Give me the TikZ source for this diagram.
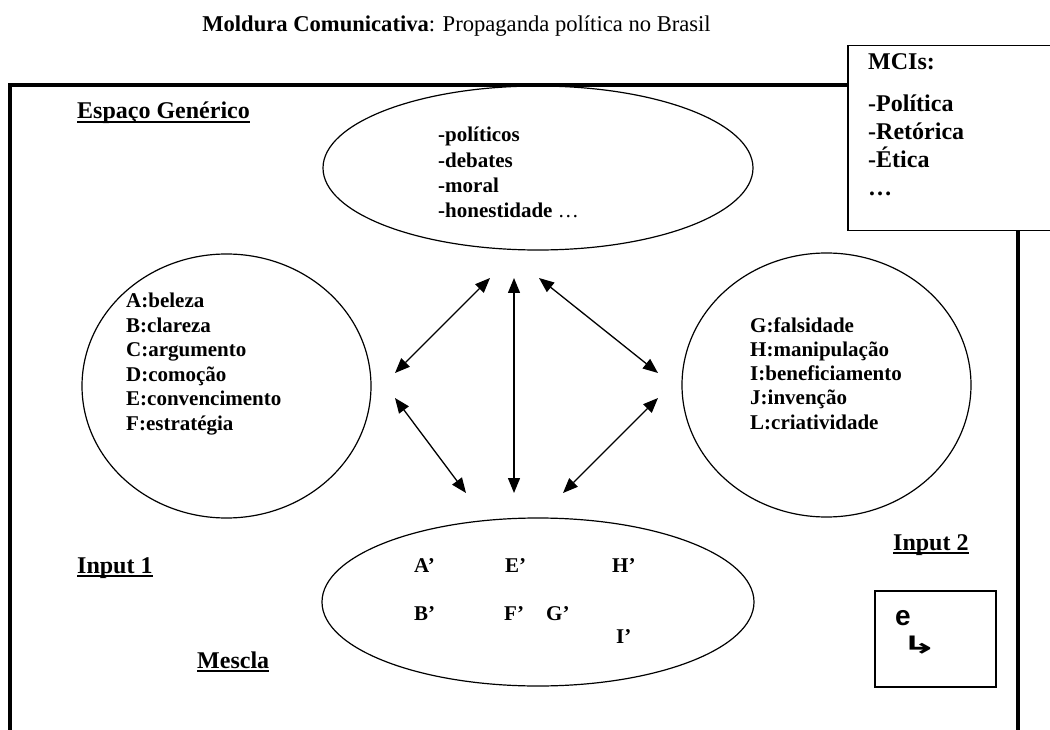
\documentclass[tikz,border=0pt]{standalone}
\usepackage{fontspec}
\setmainfont{Liberation Serif}
\newfontfamily\boxfont{Liberation Sans}
\newfontfamily\symfont{DejaVu Sans}
\usetikzlibrary{shapes.geometric,arrows.meta}
\newcommand{\ulin}[1]{\setbox0\hbox{#1}\rlap{\copy0}\rule[-4.2pt]{\wd0}{2.4pt}}

\begin{document}
\begin{tikzpicture}[x=1pt,y=-1pt,
  space/.style={draw,ellipse,line width=1.2pt,inner sep=0pt},
  item/.style={font=\fontsize{21}{24}\selectfont\bfseries,anchor=base west,inner sep=0pt},
  head/.style={font=\fontsize{24}{28}\selectfont\bfseries,anchor=base west,inner sep=0pt},
  link/.style={{Triangle[length=15pt,width=12pt]}-{Triangle[length=15pt,width=12pt]},line width=1.3pt}]
\useasboundingbox (0,0) rectangle (1050,730);
\draw[line width=4pt] (10,85) rectangle (1018,790);
\node[font=\fontsize{22.6}{26}\selectfont,anchor=base,inner sep=0pt] (title) at (456.5,32) {\textbf{Moldura Comunicativa}: Propaganda política no Brasil};
% MCIs
\node[draw,fill=white,line width=1.5pt,anchor=north west,minimum width=215pt,minimum height=185pt] (mci) at (847,45) {};
\node[head] (mcit) at (868,70) {MCIs:};
\foreach \t [count=\i] in {-Política,-Retórica,-Ética,\ldots} \node[head] (m\i) at (868,{112+27.7*(\i-1)}) {\t};
% espacos
\node[space,minimum width=430pt,minimum height=164pt] (gen) at (538,168) {};
\node[space,minimum width=289pt,minimum height=264pt] (in1) at (226.5,386) {};
\node[space,minimum width=289pt,minimum height=264pt] (in2) at (826.5,385) {};
\node[space,minimum width=432pt,minimum height=168pt] (mes) at (538,602) {};
\node[head] (lgen) at (77,119) {\ulin{Espaço Genérico}};
\node[head] (lin1) at (77,573) {\ulin{Input 1}};
\node[head] (lin2) at (893,550) {\ulin{Input 2}};
\node[head] (lmes) at (197,668) {\ulin{Mescla}};
\foreach \t [count=\i] in {-políticos,-debates,-moral,{-honestidade \textmd{…}}} \node[item] (g\i) at (438,{142+25.3*(\i-1)}) {\t};
\foreach \t [count=\i] in {A:beleza,B:clareza,C:argumento,D:comoção,E:convencimento,F:estratégia} \node[item] (a\i) at (126,{308+24.4*(\i-1)}) {\t};
\foreach \t [count=\i] in {G:falsidade,H:manipulação,I:beneficiamento,J:invenção,L:criatividade} \node[item] (b\i) at (750,{332+24.3*(\i-1)}) {\t};
\foreach \t/\x/\y in {A/414/572,E/505/572,H/612/572,B/414/620,F/504/620,G/546/620,I/616/643} \node[item] (p\t) at (\x,\y) {\t’};
% setas
\coordinate (t1) at (490,278); \coordinate (t2) at (514,278); \coordinate (t3) at (539,278);
\coordinate (l1) at (395,373); \coordinate (l2) at (395,398);
\coordinate (r1) at (658,373); \coordinate (r2) at (658,398);
\coordinate (b1) at (466,493); \coordinate (b2) at (514,493); \coordinate (b3) at (563,493);
\draw[link] (t1) -- (l1);
\draw[link] (t2) -- (b2);
\draw[link] (t3) -- (r1);
\draw[link] (l2) -- (b1);
\draw[link] (r2) -- (b3);
% caixa e
\node[draw,line width=1.5pt,anchor=north west,minimum width=121pt,minimum height=96pt] (ebox) at (874,590) {};
\node[font=\boxfont\bfseries\fontsize{28}{30}\selectfont,anchor=base west,inner sep=0pt] (e) at (895,625) {e};
\node[font=\symfont\bfseries\fontsize{24}{26}\selectfont,anchor=base west,inner sep=0pt,xscale=1.8] (ret) at (901,653) {↳};
\end{tikzpicture}
\end{document}
